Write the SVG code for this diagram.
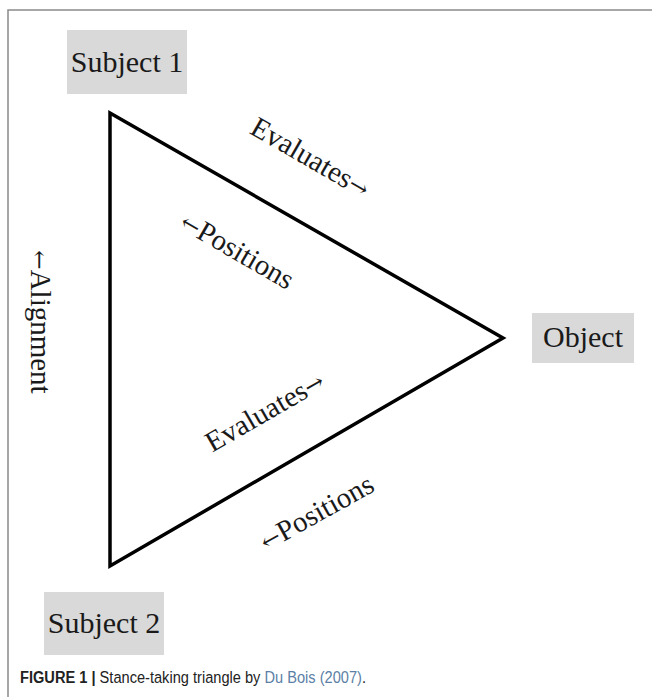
<svg xmlns="http://www.w3.org/2000/svg" width="652" height="697" viewBox="0 0 652 697">
<style>
.lbl{font-family:"Liberation Serif",serif;font-size:30px;fill:#1a1a1a}
.edge{font-family:"Liberation Serif",serif;font-size:29px;fill:#1a1a1a}
.ar{font-family:"DejaVu Serif",serif;font-size:23px}
.box{fill:#d9d9d9}
.cap{font-family:"Liberation Sans",Arial,sans-serif;font-size:17px;fill:#222}
</style>
<rect x="8" y="10" width="660" height="700" fill="#fff" stroke="#8a8a8a" stroke-width="1.5"/>
<g id="subject1"><rect class="box" x="67" y="30" width="120" height="64"/><text class="lbl" x="127" y="72" text-anchor="middle">Subject 1</text></g>
<g id="object"><rect class="box" x="532" y="313" width="102" height="50"/><text class="lbl" x="583" y="347" text-anchor="middle">Object</text></g>
<g id="subject2"><rect class="box" x="44" y="592" width="120" height="63"/><text class="lbl" x="104" y="633" text-anchor="middle">Subject 2</text></g>
<g id="connectors">
<polygon points="110,113 503,338 110,566" fill="none" stroke="#000" stroke-width="3.5" stroke-linejoin="miter"/>
<text class="edge" transform="translate(309,160) rotate(30)" text-anchor="middle" dominant-baseline="middle">Evaluates<tspan class="ar">→</tspan></text>
<text class="edge" transform="translate(236,253) rotate(30)" text-anchor="middle" dominant-baseline="middle"><tspan class="ar">←</tspan>Positions</text>
<text class="edge" transform="translate(266,414) rotate(-30)" text-anchor="middle" dominant-baseline="middle">Evaluates<tspan class="ar">→</tspan></text>
<text class="edge" transform="translate(318,515) rotate(-29)" text-anchor="middle" dominant-baseline="middle"><tspan class="ar">←</tspan>Positions</text>
<text class="edge" transform="translate(38,322) rotate(90)" text-anchor="middle" dominant-baseline="middle"><tspan class="ar">←</tspan>Alignment</text>
</g>
<text class="cap" transform="translate(20,683) scale(0.86,1)"><tspan font-weight="bold">FIGURE 1 |</tspan> Stance-taking triangle by <tspan fill="#5b7fa6">Du Bois (2007)</tspan>.</text>
</svg>
